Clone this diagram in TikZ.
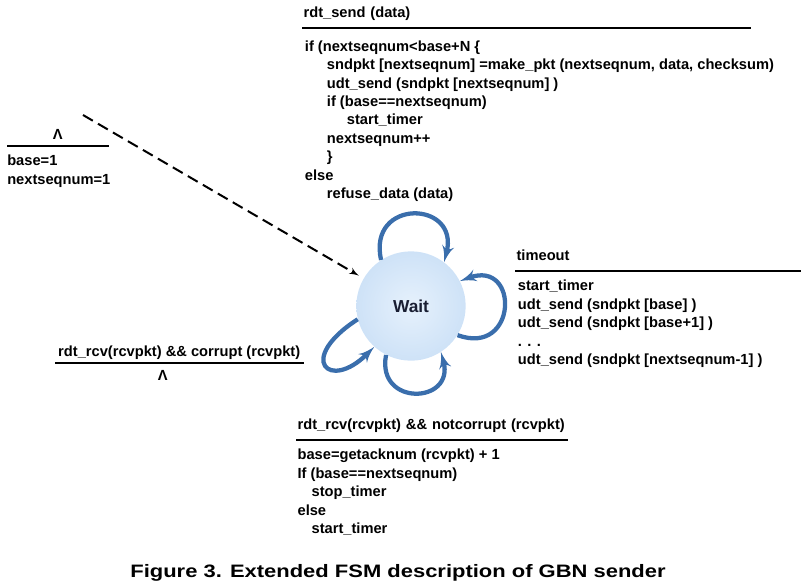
\documentclass[tikz,border=0pt]{standalone}
\usepackage{fontspec}
\setmainfont{Liberation Sans}
\usepackage{graphicx}
\usepackage{xcolor}
\usetikzlibrary{positioning,arrows}

\definecolor{loopblue}{RGB}{58,110,172}
\definecolor{waitouter}{RGB}{206,226,247}
\definecolor{waitinner}{RGB}{230,241,252}
\definecolor{waittext}{RGB}{25,30,50}

\begin{document}
\begin{tikzpicture}[
  x=0.75pt, y=-0.75pt, >=latex',
  evt/.style={font=\bfseries\fontsize{11}{13.8}\selectfont, anchor=south west, inner xsep=1pt, inner ysep=7.5pt, text depth=0pt, align=left},
  acts/.style={font=\bfseries\fontsize{11}{13.8}\selectfont, inner sep=0pt, align=left},
  bar/.style={line width=1.5pt},
  selfloop/.style={->, color=loopblue, line width=3.2pt},
  state/.style={circle, minimum size=82pt, inner sep=0pt, inner color=waitinner, outer color=waitouter, font=\bfseries\fontsize{13}{15}\selectfont, text=waittext},
]
  \useasboundingbox (0,0) rectangle (805,586);

  \node (wait)[state] at (411,306) {Wait};
  \draw[selfloop] (wait.123) .. controls +(-14,-62) and +(16,-62) .. (wait.53);
  \draw[selfloop] (wait.-32) .. controls +(60,22) and +(60,-22) .. (wait.27);
  \draw[selfloop] (wait.-117) .. controls +(-10,52) and +(14,52) .. (wait.-57);
  \draw[selfloop] (wait.194) .. controls +(-62,40) and +(-45,45) .. (wait.228);

  % initial transition
  \coordinate (init) at (83,115);
  \draw[->, line width=1.5pt, dash pattern=on 8.5pt off 4.5pt, shorten >=4pt] (init) -- (wait);
  \node (init-evt)[evt, minimum width=75.75pt, inner ysep=5pt, align=center] at (7,146) {Λ};
  \draw[bar] (init-evt.south west) -- (init-evt.south east);
  \node (init-act)[acts, below right=5pt and 0pt of init-evt.south west] {\strut base=1\\nextseqnum=1};

  % rdt_send
  \node (send-evt)[evt, text width=334pt] at (302,27.5) {rdt\_send (data)};
  \draw[bar] (send-evt.south west) -- (send-evt.south east);
  \node (send-act)[acts, below right=8pt and 2pt of send-evt.south west] {\strut if (nextseqnum<base+N \{\\
    \hspace*{16.5pt}sndpkt [nextseqnum] =make\_pkt (nextseqnum, data, checksum)\\
    \hspace*{16.5pt}udt\_send (sndpkt [nextseqnum] )\\
    \hspace*{16.5pt}if (base==nextseqnum)\\
    \hspace*{31.5pt}start\_timer\\
    \hspace*{16.5pt}nextseqnum++\\
    \hspace*{16.5pt}\}\\
    else\\
    \hspace*{16.5pt}refuse\_data (data)};

  % timeout
  \node (tout-evt)[evt, text width=211.75pt] at (515,271) {timeout};
  \draw[bar] (tout-evt.south west) -- (tout-evt.south east);
  \node (tout-act)[acts, below right=5pt and 2pt of tout-evt.south west] {\strut start\_timer\\
    udt\_send (sndpkt [base] )\\
    udt\_send (sndpkt [base+1] )\\
    . . .\\
    udt\_send (sndpkt [nextseqnum-1] )};

  % corrupt ack
  \node (crpt-evt)[evt, minimum width=186pt, inner ysep=5pt, align=center] at (55,363) {rdt\_rcv(rcvpkt) \&\& corrupt (rcvpkt)};
  \draw[bar] (crpt-evt.south west) -- (crpt-evt.south east);
  \node (crpt-act)[acts, below right=3.5pt and 77pt of crpt-evt.south west] {\strut Λ};

  % good ack
  \node (ok-evt)[evt, text width=201.25pt] at (296,440) {rdt\_rcv(rcvpkt) \&\& notcorrupt (rcvpkt)};
  \draw[bar] (ok-evt.south west) -- (ok-evt.south east);
  \node (ok-act)[acts, below right=5pt and 1pt of ok-evt.south west] {\strut base=getacknum (rcvpkt) + 1\\
    If (base==nextseqnum)\\
    \hspace*{10.5pt}stop\_timer\\
    else\\
    \hspace*{10.5pt}start\_timer};

  \node (caption)[font=\bfseries\fontsize{13.5}{16}\selectfont] at (398,573) {\scalebox{1.22}[1]{Figure 3. Extended FSM description of GBN sender}};
\end{tikzpicture}
\end{document}
